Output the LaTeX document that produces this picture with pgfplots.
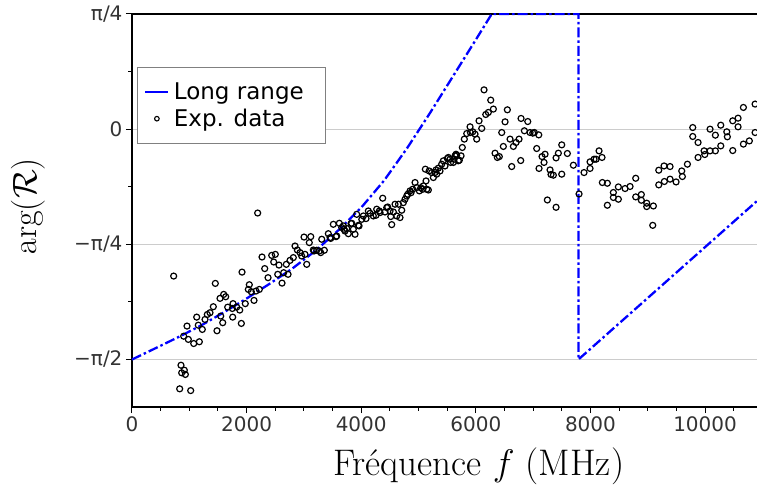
\RequirePackage{fix-cm}
\documentclass[border=0pt]{standalone}
\usepackage{fontspec}
\newfontfamily\dejavu{DejaVu Sans}
\usepackage{pgfplots}
\pgfplotsset{compat=1.18}
\definecolor{ticklabel}{HTML}{333333}
\definecolor{gridgray}{HTML}{CCCCCC}
\definecolor{legframe}{HTML}{808080}

\pgfplotstableread{
x y
727 -1.002
832 -1.771
855 -1.610
867 -1.662
902 -1.412
913 -1.644
931 -1.673
960 -1.343
983 -1.434
1024 -1.783
1077 -1.462
1129 -1.282
1157 -1.337
1175 -1.450
1227 -1.366
1274 -1.298
1314 -1.264
1361 -1.252
1419 -1.211
1454 -1.052
1483 -1.375
1536 -1.154
1548 -1.275
1583 -1.320
1600 -1.127
1635 -1.143
1670 -1.214
1751 -1.223
1757 -1.282
1763 -1.190
1827 -1.214
1880 -1.234
1908 -1.325
1920 -0.975
1977 -1.190
2030 -1.093
2047 -1.061
2082 -1.109
2129 -1.168
2164 -1.104
2193 -0.572
2222 -1.093
2269 -0.872
2316 -0.951
2374 -1.013
2438 -0.861
2473 -0.906
2501 -0.854
2543 -0.990
2565 -0.927
2618 -1.050
2647 -0.979
2693 -0.922
2723 -0.990
2757 -0.895
2815 -0.876
2845 -0.797
2885 -0.824
2932 -0.842
2961 -0.865
3002 -0.736
3019 -0.854
3049 -0.922
3094 -0.774
3119 -0.733
3164 -0.824
3176 -0.831
3223 -0.826
3269 -0.831
3293 -0.842
3311 -0.751
3356 -0.826
3426 -0.713
3456 -0.740
3468 -0.745
3513 -0.649
3560 -0.733
3572 -0.729
3618 -0.642
3660 -0.671
3688 -0.660
3700 -0.683
3717 -0.695
3747 -0.678
3775 -0.713
3822 -0.644
3834 -0.642
3862 -0.683
3892 -0.717
3921 -0.581
3950 -0.656
3962 -0.660
4010 -0.615
4037 -0.592
4084 -0.610
4124 -0.558
4154 -0.574
4211 -0.592
4258 -0.587
4270 -0.546
4316 -0.558
4328 -0.569
4375 -0.471
4415 -0.565
4445 -0.535
4462 -0.531
4503 -0.558
4515 -0.596
4532 -0.651
4561 -0.565
4590 -0.512
4620 -0.592
4650 -0.512
4677 -0.603
4707 -0.553
4735 -0.501
4764 -0.478
4794 -0.456
4811 -0.444
4852 -0.421
4870 -0.433
4898 -0.410
4939 -0.364
4969 -0.398
5014 -0.421
5040 -0.400
5072 -0.410
5084 -0.387
5119 -0.273
5131 -0.353
5143 -0.410
5171 -0.415
5185 -0.285
5230 -0.296
5259 -0.330
5288 -0.296
5305 -0.278
5317 -0.307
5346 -0.266
5375 -0.285
5404 -0.239
5433 -0.216
5462 -0.251
5503 -0.200
5520 -0.193
5550 -0.205
5560 -0.227
5608 -0.227
5620 -0.205
5637 -0.182
5654 -0.171
5666 -0.178
5694 -0.216
5712 -0.212
5742 -0.182
5764 -0.125
5799 -0.068
5841 -0.030
5899 0.016
5905 -0.023
5946 -0.018
5986 -0.034
6015 -0.068
6056 0.057
6103 0.005
6143 0.268
6173 0.100
6218 0.114
6260 0.198
6306 0.137
6335 -0.164
6375 -0.193
6410 -0.187
6452 -0.023
6480 -0.118
6510 0.050
6550 0.132
6597 -0.068
6626 -0.255
6655 -0.118
6702 -0.091
6754 -0.068
6783 -0.214
6789 0.073
6847 -0.011
6906 0.052
6946 -0.023
6993 -0.027
7021 -0.023
7062 -0.132
7098 -0.039
7103 -0.268
7155 -0.187
7190 -0.227
7208 -0.171
7248 -0.483
7295 -0.278
7312 -0.309
7353 -0.314
7400 -0.196
7400 -0.533
7440 -0.164
7499 -0.107
7499 -0.307
7597 -0.166
7702 -0.246
7801 -0.442
7888 -0.296
7993 -0.223
7993 -0.268
8063 -0.205
8098 -0.205
8150 -0.148
8202 -0.193
8208 -0.364
8295 -0.369
8295 -0.519
8400 -0.432
8400 -0.466
8487 -0.394
8487 -0.478
8604 -0.405
8691 -0.391
8790 -0.335
8790 -0.462
8888 -0.446
8888 -0.485
8982 -0.505
8982 -0.528
9098 -0.524
9087 -0.656
9192 -0.280
9192 -0.380
9284 -0.251
9290 -0.357
9389 -0.255
9389 -0.341
9494 -0.360
9593 -0.285
9604 -0.323
9692 -0.239
9785 0.011
9785 -0.050
9878 -0.091
9878 -0.193
9983 -0.148
9995 -0.173
10087 0.000
10087 -0.148
10180 -0.041
10180 -0.148
10274 0.027
10274 -0.114
10379 -0.018
10389 -0.052
10483 0.057
10483 -0.146
10576 0.075
10576 0.016
10669 0.148
10669 -0.102
10773 -0.080
10873 0.171
10873 -0.023
}\expdata

\begin{document}
\begin{tikzpicture}
\begin{axis}[
  scale only axis,
  width=693.4pt, height=393pt,
  xmin=0, xmax=12100,
  ymin=-1.895, ymax=0.7854,
  axis line style={black, line width=1.2pt},
  tick pos=left,
  tick align=outside,
  major tick length=6pt,
  minor tick length=3.5pt,
  every tick/.style={black, line width=1pt},
  scaled x ticks=false,
  xtick={0,2000,4000,6000,8000,10000},
  xticklabels={0,2000,4000,6000,8000,10000},
  minor xtick={500,1000,1500,2500,3000,3500,4500,5000,5500,6500,7000,7500,8500,9000,9500,10500,11000,11500},
  ytick={-1.5708,-0.7854,0,0.7854},
  yticklabels={−π/2,−π/4,0,π/4},
  minor ytick={-1.1781,-0.3927,0.3927},
  ymajorgrids,
  grid style={gridgray, line width=0.8pt},
  ticklabel style={font=\dejavu\fontsize{20}{24}\selectfont, text=ticklabel},
  xlabel={Fréquence $f$ (MHz)},
  ylabel={$\arg(\mathcal{R})$},
  label style={font=\fontsize{37}{44}\selectfont},
  xlabel style={at={(axis description cs:0.5,-0.150)}, anchor=center},
  ylabel style={font=\fontsize{34}{40}\selectfont, at={(axis description cs:-0.150,0.511)}, anchor=center},
  legend style={at={(rel axis cs:0.0072,0.865)}, anchor=north west,
    draw=legframe, line width=0.8pt, fill=white,
    font=\dejavu\fontsize{23}{27}\selectfont,
    inner xsep=7pt, inner ysep=13pt, row sep=3pt,
    nodes={inner sep=2.5pt}},
  legend cell align=left,
]
\coordinate (O) at (rel axis cs:0,0);
\addplot[blue, line width=2.3pt, dash pattern=on 10pt off 3pt on 2.5pt off 3pt,
  legend image code/.code={\path[draw=none] (0pt,0pt) -- (26pt,0pt);
    \draw[blue, line width=2pt, solid] (0pt,0pt) -- (23pt,0pt);}]
  coordinates {
  (0,-1.571) (400,-1.496) (800,-1.420) (1200,-1.340) (1600,-1.250)
  (2000,-1.155) (2400,-1.055) (2800,-0.950) (3200,-0.830) (3600,-0.690)
  (4000,-0.535) (4400,-0.350) (4800,-0.130) (5200,0.110) (5600,0.360)
  (6000,0.610) (6277,0.7854) (7790,0.7854) (7790,-1.571) (10950,-0.475)
};
\addlegendentry{Long range\kern12pt}
\addplot[only marks, mark=o, mark size=3pt, black, line width=1.2pt,
  legend image code/.code={\path[draw=none] (0pt,0pt) -- (26pt,0pt);
    \draw[draw=none, only marks, mark=o, mark size=2.3pt,
      mark options={draw=black, solid, line width=1.1pt}] plot coordinates {(11.5pt,0pt)};}]
  table[x=x, y=y] {\expdata};
\addlegendentry{Exp. data}
\end{axis}
\pgfresetboundingbox
\path[use as bounding box] (O) ++(-132pt,-86pt) rectangle ++(757pt,493pt);
\end{tikzpicture}
\end{document}
